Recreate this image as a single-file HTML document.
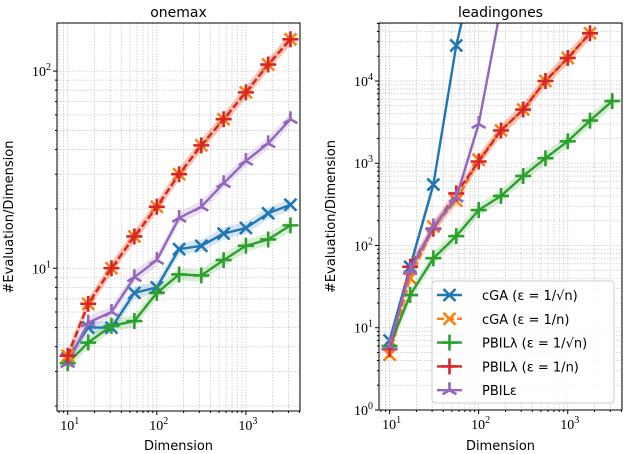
<!DOCTYPE html>
<html><head><meta charset="utf-8"><style>
html,body{margin:0;padding:0;background:#fff;}
svg{display:block;font-family:"DejaVu Sans","Liberation Sans",sans-serif;}
</style></head><body>
<svg id="c" width="624" height="454" xmlns="http://www.w3.org/2000/svg"></svg>
<script>
const dims = [10,17,31,56,100,178,316,562,1000,1778,3162];
const omCgaSqrt = [3.5,5,5,7.5,8,12.5,13,15,16,19,21];
const omCgaN = [3.6,6.6,10,14.5,20.5,30,42,57,78,108,145];
const omPbilSqrt = [3.3,4.2,5.1,5.4,7.5,9.3,9.2,11,13,14,16.5];
const omPbilN = [3.6,6.6,10,14.5,20.5,30,42,57,78,108,145];
const omPbilEps = [3.3,5.3,6,9,11,18,20.5,27,35,43,57];
const loCgaSqrt = [7,55,550,27000,400000];
const loCgaN = [4.7,40,170,350,1100,2500,4500,10000,19000,38000];
const loPbilSqrt = [6,25,70,130,270,400,700,1150,1850,3300,5700];
const loPbilN = [5.5,55,160,430,1050,2500,4500,10000,19000,38000];
const loPbilEps = [6,50,170,380,3000,80000];
const xTicks = [1,2,3];
const omYTicks = [1,2];
const loYTicks = [0,1,2,3,4];

const NS="http://www.w3.org/2000/svg";
const svg=document.getElementById('c');
function el(t,a,p){const e=document.createElementNS(NS,t);for(const k in a)e.setAttribute(k,a[k]);(p||svg).appendChild(e);return e;}
const colors={blue:'#1f77b4',orange:'#ff7f0e',green:'#2ca02c',red:'#d62728',purple:'#9467bd'};

function marker(g,type,x,y,c){
  const r=8;let d;
  if(type==='x') d=`M${x-r*0.75},${y-r*0.75}L${x+r*0.75},${y+r*0.75}M${x-r*0.75},${y+r*0.75}L${x+r*0.75},${y-r*0.75}`;
  else if(type==='+') d=`M${x-r},${y}L${x+r},${y}M${x},${y-r}L${x},${y+r}`;
  else d=`M${x},${y}L${x},${y-r}M${x},${y}L${x-r*0.87},${y+r*0.5}M${x},${y}L${x+r*0.87},${y+r*0.5}`;
  const m=el('path',{d:d,stroke:c,'stroke-width':2.6,fill:'none'},g);
  
  
}

function panel(o){
  const {x0,x1,y0,y1,xmin,xmax,ymin,ymax,name,title,yTicks,series}=o;
  const g=el('g',{});
  
  
  const sx=v=>x0+(Math.log10(v)-xmin)/(xmax-xmin)*(x1-x0);
  const sy=v=>y1-(Math.log10(v)-ymin)/(ymax-ymin)*(y1-y0);
  const clipId='clip'+name;
  const cp=el('clipPath',{id:clipId},g);el('rect',{x:x0,y:y0,width:x1-x0,height:y1-y0},cp);
  const grid=el('g',{stroke:'#c8c8c8','stroke-width':0.8,'stroke-dasharray':'1.5,1.5'},g);
  
  
  for(let d=Math.floor(xmin);d<=Math.ceil(xmax);d++)for(let k=1;k<10;k++){const lv=d+Math.log10(k);if(lv<xmin||lv>xmax)continue;const X=x0+(lv-xmin)/(xmax-xmin)*(x1-x0);el('line',{x1:X,x2:X,y1:y0,y2:y1},grid);
    el('line',{x1:X,x2:X,y1:y1,y2:y1+(k===1?4:2),stroke:'#000','stroke-dasharray':'none'},g);}
  for(let d=Math.floor(ymin);d<=Math.ceil(ymax);d++)for(let k=1;k<10;k++){const lv=d+Math.log10(k);if(lv<ymin||lv>ymax)continue;const Y=y1-(lv-ymin)/(ymax-ymin)*(y1-y0);el('line',{x1:x0,x2:x1,y1:Y,y2:Y},grid);
    el('line',{x1:x0,x2:x0-(k===1?4:2),y1:Y,y2:Y,stroke:'#000'},g);}
  const sg=el('g',{'clip-path':`url(#${clipId})`},g);
  series.forEach(s=>{
    const pts=s.vals.map((v,i)=>[sx(dims[i]),sy(v)]);
    const up=pts.map(p=>p[0]+','+(p[1]-6)).join(' ');
    const dn=pts.slice().reverse().map(p=>p[0]+','+(p[1]+6)).join(' ');
    const b=el('polygon',{points:up+' '+dn,fill:s.c,'fill-opacity':0.18},sg);
    
    
    const l=el('polyline',{points:pts.map(p=>p.join(',')).join(' '),fill:'none',stroke:s.c,'stroke-width':2.4,'stroke-dasharray':s.dash?'7,3':'none'},sg);
    
    
    pts.forEach(p=>marker(sg,s.m,p[0],p[1],s.c));
  });
  el('rect',{x:x0,y:y0,width:x1-x0,height:y1-y0,fill:'none',stroke:'#000','stroke-width':1},g);
  xTicks.forEach(t=>{const X=sx(Math.pow(10,t));const tx=el('text',{x:X+2,y:y1+19,'text-anchor':'middle','font-size':14,'font-family':'Liberation Serif, serif'},g);tx.textContent='10';const sp=el('tspan',{dy:-6,'font-size':10},tx);sp.textContent=t;
    });
  yTicks.forEach(t=>{const Y=sy(Math.pow(10,t));const tx=el('text',{x:x0-6,y:Y+5,'text-anchor':'end','font-size':14,'font-family':'Liberation Serif, serif'},g);tx.textContent='10';const sp=el('tspan',{dy:-6,'font-size':10},tx);sp.textContent=t;
    });
  const tt=el('text',{x:(x0+x1)/2,y:y0-6,'text-anchor':'middle','font-size':14},g);tt.textContent=title;
  
  const xl=el('text',{x:(x0+x1)/2,y:450,'text-anchor':'middle','font-size':13},g);xl.textContent='Dimension';
  
  const yl=el('text',{x:0,y:0,'text-anchor':'middle','font-size':13,transform:`translate(${x0-44},${(y0+y1)/2}) rotate(-90)`},g);yl.textContent='#Evaluation/Dimension';
  
}

panel({x0:57,x1:300,y0:23,y1:411,xmin:0.88,xmax:3.607,ymin:0.276,ymax:2.244,name:'onemax-panel',title:'onemax',yTicks:omYTicks,
 series:[{id:'cga-sqrt',vals:omCgaSqrt,c:colors.blue,m:'x'},{id:'pbil-sqrt',vals:omPbilSqrt,c:colors.green,m:'+'},{id:'pbil-eps',vals:omPbilEps,c:colors.purple,m:'t'},
 {id:'cga-n',vals:omCgaN,c:colors.orange,m:'x',dash:1},{id:'pbil-n',vals:omPbilN,c:colors.red,m:'+',dash:1}]});
panel({x0:379,x1:622,y0:23,y1:410,xmin:0.881,xmax:3.609,ymin:0,ymax:4.705,name:'leadingones-panel',title:'leadingones',yTicks:loYTicks,
 series:[{id:'cga-sqrt',vals:loCgaSqrt,c:colors.blue,m:'x'},{id:'cga-n',vals:loCgaN,c:colors.orange,m:'x',dash:1},{id:'pbil-sqrt',vals:loPbilSqrt,c:colors.green,m:'+'},
 {id:'pbil-n',vals:loPbilN,c:colors.red,m:'+',dash:1},{id:'pbil-eps',vals:loPbilEps,c:colors.purple,m:'t'}]});

const lg=el('g',{});


el('rect',{x:432,y:281,width:182,height:122,rx:3,fill:'#fff','fill-opacity':0.85,stroke:'#ccc'},lg);
const legItems=[['cGA (ε = 1/√n)',colors.blue,'x',0],['cGA (ε = 1/n)',colors.orange,'x',1],['PBILλ (ε = 1/√n)',colors.green,'+',0],['PBILλ (ε = 1/n)',colors.red,'+',1],['PBILε',colors.purple,'t',0]];
legItems.forEach((it,i)=>{const y=295+i*23.8;
  const e=el('g',{},lg);
  
  
  el('line',{x1:437,x2:462,y1:y,y2:y,stroke:it[1],'stroke-width':2.4,'stroke-dasharray':it[3]?'7,3':'none'},e);
  marker(e,it[2],449.5,y,it[1]);
  const t=el('text',{x:482,y:y+5,'font-size':13},e);t.textContent=it[0];});
</script>
</body></html>
